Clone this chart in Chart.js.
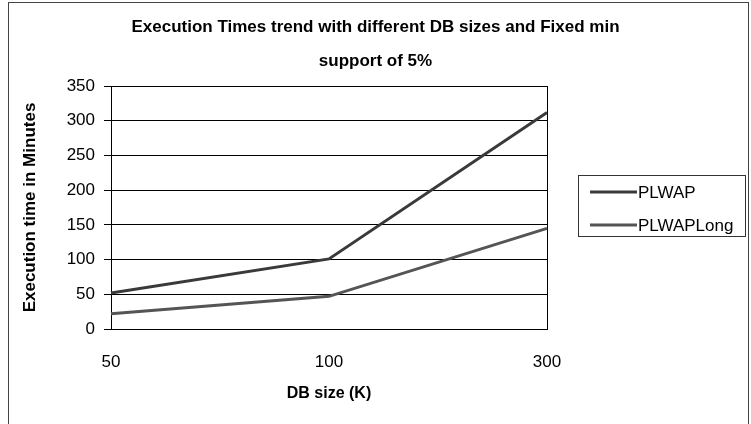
<!DOCTYPE html>
<html>
<head>
<meta charset="utf-8">
<script src="https://cdn.jsdelivr.net/npm/chart.js@4.4.1/dist/chart.umd.min.js"></script>
<style>
  html, body { margin: 0; padding: 0; background: #fff; }
  #wrap { position: relative; width: 751px; height: 424px; overflow: hidden; }
  #frame { position: absolute; left: 8px; top: 2px; width: 739px; height: 440px; border: 1px solid #444; }
  #chart { position: absolute; left: 0; top: 0; }
</style>
</head>
<body>
<div id="wrap">
  <div id="frame"></div>
  <canvas id="chart" width="751" height="424"></canvas>
</div>
<script>
const dbSizes = ['50', '100', '300']; // DB size (K)
const plwapTimes = [52, 101, 312]; // PLWAP, minutes
const plwapLongTimes = [22, 47, 145]; // PLWAPLong, minutes
const seriesNames = ['PLWAP', 'PLWAPLong'];
const yTickMin = 0;
const yTickMax = 350;
const yTickStep = 50;

const fontFamily = '"Liberation Sans", Arial, sans-serif';

// legend box drawn by hand, Excel style
const boxLegend = {
    id: 'boxLegend',
    afterDraw(chart) {
        const ctx = chart.ctx;
        const x = 578, y = 175, w = 167, h = 61;
        ctx.save();
        ctx.strokeStyle = '#333';
        ctx.lineWidth = 1;
        ctx.strokeRect(x + 0.5, y + 0.5, w, h);
        ctx.font = '17px ' + fontFamily;
        ctx.fillStyle = '#000';
        ctx.textBaseline = 'middle';
        chart.data.datasets.forEach((ds, i) => {
            const ly = y + 17 + i * 33;
            ctx.strokeStyle = ds.borderColor;
            ctx.lineWidth = ds.borderWidth;
            ctx.beginPath();
            ctx.moveTo(x + 12, ly);
            ctx.lineTo(x + 59, ly);
            ctx.stroke();
            ctx.fillText(ds.label, x + 60, ly + 1);
        });
        ctx.restore();
    }
};

const ctx = document.getElementById('chart').getContext('2d');
new Chart(ctx, {
    type: 'line',
    data: {
        labels: dbSizes,
        datasets: [{
            label: seriesNames[0],
            data: plwapTimes,
            borderColor: '#3a3a3a',
            borderWidth: 3,
            pointRadius: 0,
            tension: 0
        }, {
            label: seriesNames[1],
            data: plwapLongTimes,
            borderColor: '#555555',
            borderWidth: 3,
            pointRadius: 0,
            tension: 0
        }]
    },
    options: {
        responsive: false,
        animation: false,
        layout: { padding: 0 },
        plugins: {
            legend: { display: false },
            tooltip: { enabled: false },
            title: {
                display: true,
                text: ['Execution Times trend with different DB sizes and Fixed min', 'support of 5%'],
                color: '#000',
                font: { family: fontFamily, size: 17, weight: 'bold', lineHeight: 2.0 },
                padding: { top: 10, bottom: 8 }
            }
        },
        scales: {
            x: {
                offset: false,
                afterFit: s => { s.height = 95; },
                grid: {
                    drawTicks: false,
                    color: c => (c.index === dbSizes.length - 1 ? '#000' : 'rgba(0,0,0,0)'),
                    lineWidth: 1
                },
                border: { color: '#000', width: 1 },
                ticks: {
                    color: '#000',
                    padding: 23,
                    font: { family: fontFamily, size: 17 }
                },
                title: {
                    display: true,
                    text: 'DB size (K)',
                    color: '#000',
                    font: { family: fontFamily, size: 16, weight: 'bold' },
                    padding: { top: 4, bottom: 21 }
                }
            },
            y: {
                min: yTickMin,
                max: yTickMax,
                afterFit: s => { s.width = 111; },
                grid: { color: '#000', lineWidth: 1, tickLength: 7 },
                border: { color: '#000', width: 1 },
                ticks: {
                    stepSize: yTickStep,
                    color: '#000',
                    padding: 9,
                    font: { family: fontFamily, size: 17 }
                },
                title: {
                    display: true,
                    text: 'Execution time in Minutes',
                    color: '#000',
                    font: { family: fontFamily, size: 17, weight: 'bold' },
                    padding: { top: 20, bottom: 4 }
                }
            },
            // empty space on the right where the legend sits
            side: {
                type: 'linear',
                position: 'right',
                display: true,
                afterFit: s => { s.width = 204; },
                grid: { display: false },
                border: { display: false },
                ticks: { display: false }
            }
        }
    },
    plugins: [boxLegend]
});
</script>
</body>
</html>
